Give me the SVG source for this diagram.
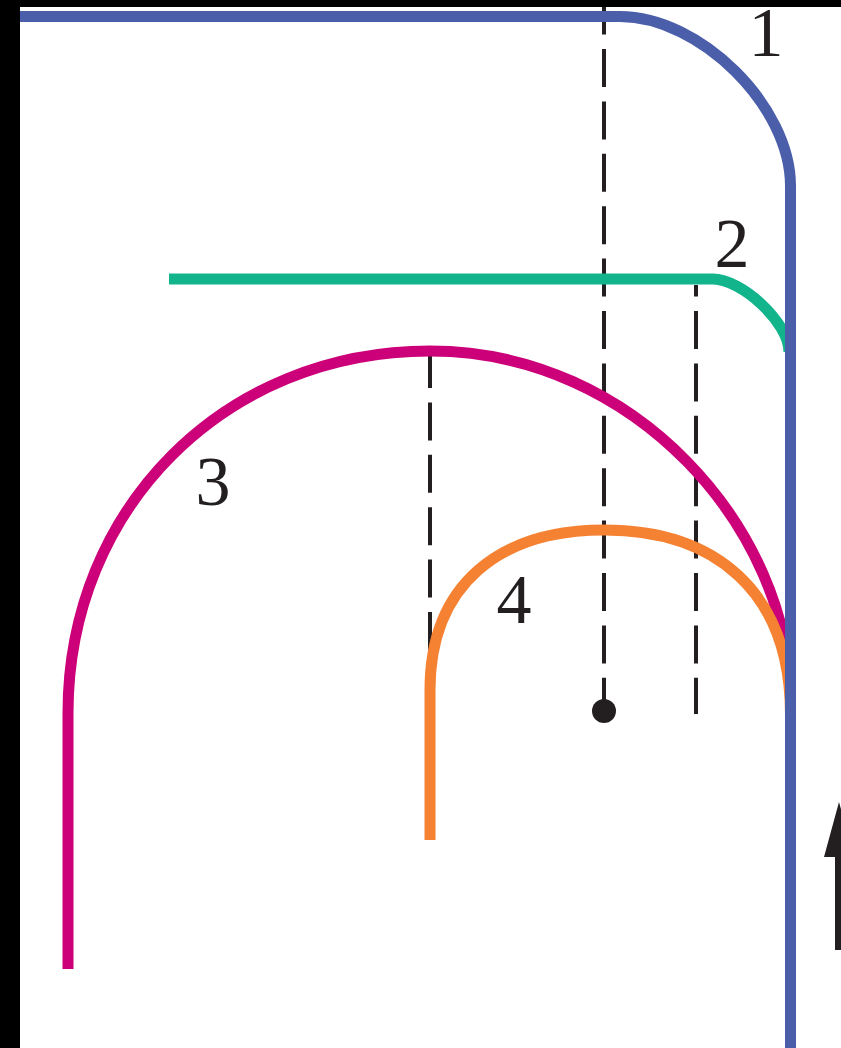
<svg xmlns="http://www.w3.org/2000/svg" width="841" height="1048" viewBox="0 0 841 1048">
<style>
.curve{fill:none;stroke-width:11;stroke-linecap:butt;stroke-linejoin:round}
.dash{fill:none;stroke:#231f20;stroke-width:4;stroke-dasharray:38 14.4}
.lbl{font-family:"Liberation Serif","DejaVu Serif",serif;font-size:70px;fill:#231f20;text-anchor:middle}
</style>
<rect x="0" y="0" width="841" height="1048" fill="#ffffff"/>
<g id="connectors">
<path class="dash" d="M604,-3.4 V711"/>
<path class="dash" d="M696,285 V714" stroke-dashoffset="26.4"/>
<path class="dash" d="M430,350 V650"/>
</g>
<g id="center-dot"><circle cx="604" cy="711" r="12" fill="#231f20"/></g>
<g id="curve2"><path class="curve" stroke="#12b48c" d="M169,279 H713 C741,279 789,322 789,352"/></g>
<g id="curve3"><path class="curve" stroke="#cc0078" d="M68,969 V713 C68,508 225,351 430,351 C635,351 790.5,530 790.5,700"/></g>
<g id="curve4"><path class="curve" stroke="#f58233" d="M430,840 V690 C430,585 499,530 604,530 C714,530 790.5,590 790.5,715"/></g>
<g id="curve1"><path class="curve" stroke="#4b5eaa" stroke-width="12" d="M20,16.5 H620 C700,16.5 790.5,106 790.5,186 V1048"/></g>
<g id="frame">
<rect x="0" y="0" width="841" height="7" fill="#000000"/>
<rect x="0" y="0" width="20" height="1048" fill="#000000"/>
</g>
<g id="arrow"><path d="M839,802 L824,857 L835,857 L835,950 L843,950 L843,857 L854,857 Z" fill="#231f20"/></g>
<g id="labels">
<text class="lbl" x="766" y="56">1</text>
<text class="lbl" x="732" y="267">2</text>
<text class="lbl" x="213" y="505">3</text>
<text class="lbl" x="514" y="623">4</text>
</g>
</svg>
